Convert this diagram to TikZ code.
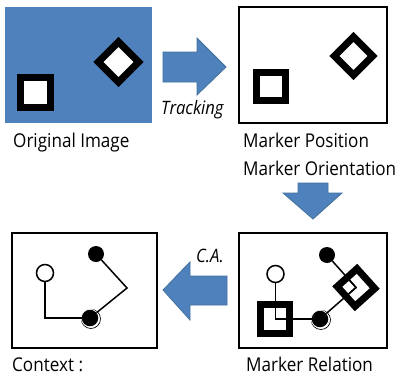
\documentclass[tikz,border=0pt]{standalone}
\usepackage{fontspec}
\setmainfont[FakeStretch=0.9]{Open Sans}
\definecolor{mblue}{HTML}{4F81BD}
\definecolor{mblueline}{HTML}{41719C}
\begin{document}
\begin{tikzpicture}[x=1pt,y=-1pt,
  lbl/.style={anchor=base west,inner sep=0pt,font=\fontsize{19}{20}\selectfont},
  ilbl/.style={anchor=base west,inner sep=0pt,font=\fontsize{18.5}{20}\selectfont\itshape},
  panel/.style={draw=black,line width=1.5pt},
  marker/.style={draw=black,line width=7pt,fill=white},
  link/.style={draw=black,line width=1.5pt},
  opendot/.style={circle,draw=black,line width=1.5pt,fill=white,inner sep=0pt,minimum size=17pt},
  blackdot/.style={circle,fill=black,inner sep=0pt,minimum size=16.5pt},
  blockarrow/.style={fill=mblue,draw=mblueline,line width=0.8pt,line join=miter}]
\useasboundingbox (0,0) rectangle (409,375);
\fill[white] (0,0) rectangle (409,375);

% ---------- panel 1: original image
\fill[mblue] (5,7) rectangle (152,123);
\draw[marker] (20.5,77.5) rectangle (50.5,107.5);
\draw[marker,shift={(118.5,62)},rotate=45] (-14.2,-14.2) rectangle (14.2,14.2);
\node[lbl] (t1) at (13,147) {Original Image};

% ---------- arrow 1
\draw[blockarrow] (163,52) -- (197,52) -- (197,38) -- (226,67) -- (197,95) -- (197,82) -- (163,82) -- cycle;
\node[ilbl] (tr) at (161,114) {Tracking};

% ---------- panel 2
\draw[panel] (239,7) rectangle (387,123);
\draw[marker] (256.5,72.5) rectangle (285.5,100.5);
\draw[marker,shift={(353.5,56)},rotate=45] (-13.5,-13.5) rectangle (13.5,13.5);
\node[lbl] (t2a) at (243,147) {Marker Position};
\node[lbl] (t2b) at (243,175) {Marker Orientation};

% ---------- arrow 2 (down)
\draw[blockarrow] (298,183) -- (328,183) -- (328,193) -- (342,193) -- (313,219) -- (283,193) -- (298,193) -- cycle;

% ---------- panel 4: marker relation
\draw[panel] (239,233) rectangle (387,348);
\draw[marker] (260.5,304) rectangle (289.5,333);
\draw[marker,shift={(356,287.5)},rotate=42] (-13.3,-13.3) rectangle (13.3,13.3);
\coordinate (S) at (275.5,319);
\coordinate (D) at (356,287.5);
\coordinate (b2c) at (320,319);
\draw[line width=0.7pt] ([shift={(0.9,0.9)}]b2c) circle (9.6);
\fill[white] (b2c) circle (9.1);
\node[blackdot] (b2) at (b2c) {};
\node[opendot] (o2) at (275.5,274) {};
\node[blackdot,minimum size=16pt] (u2) at (327,255) {};
\draw[link] (o2) |- (b2);
\draw[link] (S) rectangle ++(12,-12);
\draw[link] (u2) -- (D);
\draw[link] (b2) -- (D);
\draw[link] (D) -- ++(-8.6,-9.8) -- ++(-9.8,8.6) -- ++(8.6,9.8) -- cycle;
\node[lbl] (t4) at (246,371) {Marker Relation};

% ---------- arrow 3 (left)
\draw[blockarrow] (227,276) -- (190,276) -- (190,262) -- (163,290) -- (190,320) -- (190,305) -- (227,305) -- cycle;
\node[ilbl] (ca) at (196,262) {C.A.};

% ---------- panel 3: context
\draw[panel] (12,233) rectangle (157,348);
\coordinate (b1c) at (90,318);
\draw[line width=0.7pt] ([shift={(0.9,0.9)}]b1c) circle (9.6);
\fill[white] (b1c) circle (9.1);
\node[blackdot] (b1) at (b1c) {};
\node[opendot] (o1) at (45,273) {};
\node[blackdot,minimum size=16pt] (u1) at (96,254) {};
\coordinate (k1) at (127,288);
\draw[link] (o1) |- (b1);
\draw[link] (b1) -- (k1) -- (u1);
\node[lbl] (t3) at (12,371) {Context :};
\end{tikzpicture}
\end{document}
